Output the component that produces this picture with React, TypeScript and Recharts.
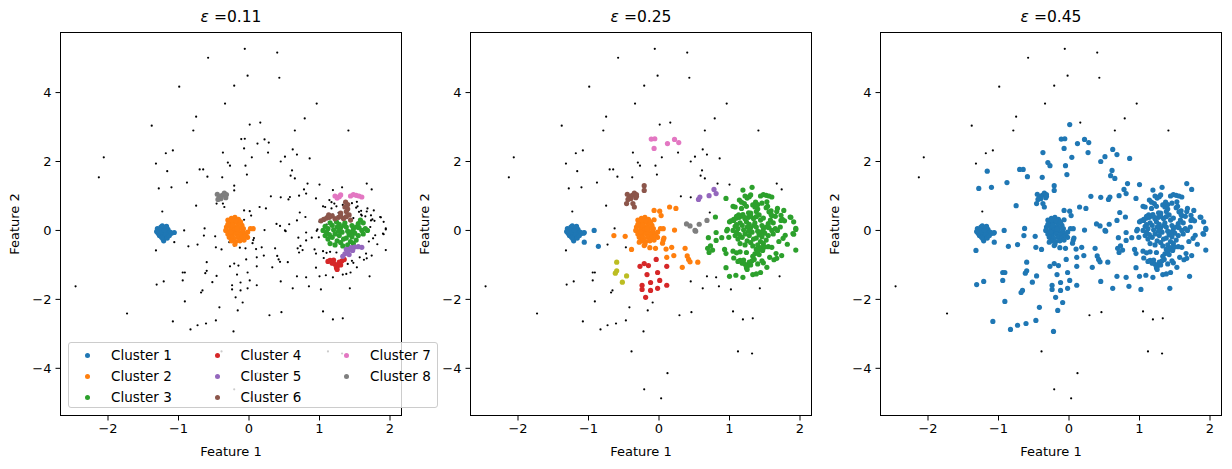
import React from "react";
import { ScatterChart, Scatter, XAxis, YAxis } from "recharts";

type Pt = [number, number];

// cluster 1 in the first panel (tight blob on the left)
const blobA: Pt[] = [
  [-1.30, 0.05], [-1.28, -0.02], [-1.25, 0.10], [-1.22, 0.05], [-1.20, -0.05], [-1.24, -0.10],
  [-1.27, -0.15], [-1.18, 0.08], [-1.16, -0.02], [-1.14, -0.10], [-1.19, -0.18], [-1.22, -0.25],
  [-1.25, -0.05], [-1.29, -0.08], [-1.23, 0.13], [-1.17, 0.12], [-1.15, 0.03], [-1.12, -0.05],
  [-1.10, -0.08], [-1.06, -0.06], [-1.21, -0.30], [-1.26, 0.00], [-1.20, 0.00], [-1.18, -0.12],
  [-1.31, -0.03], [-1.24, -0.20], [-1.16, -0.22], [-1.13, -0.15],
];

// cluster 2 (blob in the middle)
const blobB: Pt[] = [
  [-0.30, 0.30], [-0.25, 0.35], [-0.20, 0.38], [-0.15, 0.32], [-0.28, 0.20], [-0.22, 0.22],
  [-0.16, 0.20], [-0.10, 0.15], [-0.32, 0.10], [-0.26, 0.08], [-0.20, 0.10], [-0.14, 0.08],
  [-0.08, 0.05], [-0.33, 0.00], [-0.27, -0.02], [-0.21, 0.00], [-0.15, -0.02], [-0.09, -0.05],
  [-0.30, -0.10], [-0.24, -0.12], [-0.18, -0.10], [-0.12, -0.12], [-0.06, -0.10], [-0.28, -0.20],
  [-0.22, -0.22], [-0.16, -0.20], [-0.10, -0.22], [-0.25, -0.30], [-0.19, -0.32], [-0.13, -0.30],
  [-0.20, -0.40], [-0.05, -0.15], [-0.02, -0.05], [0.02, 0.05], [0.06, 0.05], [-0.24, 0.28],
  [-0.18, 0.28], [-0.30, 0.18], [-0.12, 0.25], [-0.26, -0.05], [-0.17, 0.04], [-0.23, 0.15],
  [-0.07, -0.28], [-0.02, -0.20],
];

// clusters 3..7 of the first panel (all inside the big right cloud)
const coreC: Pt[] = [
  [1.08, 0.12], [1.12, 0.05], [1.10, -0.05], [1.08, -0.15], [1.12, -0.25], [1.15, -0.38],
  [1.18, 0.15], [1.20, 0.02], [1.22, -0.10], [1.18, -0.20], [1.25, -0.30], [1.22, -0.42],
  [1.28, 0.18], [1.30, 0.08], [1.32, -0.05], [1.28, -0.15], [1.34, -0.25], [1.30, -0.35],
  [1.36, 0.22], [1.38, 0.10], [1.40, -0.02], [1.42, -0.12], [1.38, -0.22], [1.44, -0.32],
  [1.40, -0.42], [1.46, 0.14], [1.48, 0.04], [1.50, -0.08], [1.46, -0.18], [1.52, -0.28],
  [1.48, -0.38], [1.55, 0.20], [1.58, 0.30], [1.62, 0.22], [1.56, 0.08], [1.60, 0.00],
  [1.65, 0.05], [1.68, 0.00], [1.62, -0.10], [1.55, -0.15], [1.15, 0.22], [1.24, 0.25],
  [1.05, 0.00], [1.33, -0.45], [1.25, 0.10], [1.35, 0.15], [1.45, -0.05], [1.52, 0.10],
  [1.14, -0.12], [1.27, -0.02],
];
const coreD: Pt[] = [
  [1.12, -0.90], [1.15, -0.87], [1.20, -0.86], [1.18, -0.95], [1.22, -0.98], [1.26, -1.02],
  [1.24, -1.08], [1.28, -0.92], [1.32, -0.88], [1.35, -0.84], [1.30, -1.00], [1.25, -1.13],
];
const coreE: Pt[] = [
  [1.33, -0.75], [1.36, -0.68], [1.40, -0.62], [1.42, -0.55], [1.45, -0.50], [1.50, -0.48],
  [1.55, -0.47], [1.60, -0.49], [1.38, -0.55], [1.47, -0.58], [1.42, -0.70],
];
const coreF: Pt[] = [
  [1.02, 0.28], [1.06, 0.32], [1.10, 0.36], [1.14, 0.38], [1.18, 0.42], [1.13, 0.45],
  [1.22, 0.34], [1.27, 0.38], [1.30, 0.42], [1.34, 0.35], [1.38, 0.40], [1.42, 0.45],
  [1.38, 0.55], [1.40, 0.62], [1.36, 0.68], [1.40, 0.75], [1.37, 0.82], [1.30, 0.50],
  [1.44, 0.30],
];
const coreG: Pt[] = [
  [1.22, 1.00], [1.25, 0.94], [1.28, 0.98], [1.44, 1.00], [1.48, 1.04], [1.52, 1.02],
  [1.56, 1.00], [1.60, 0.97], [1.30, 1.03],
];
// cluster 8 of the first panel
const coreH: Pt[] = [
  [-0.45, 1.05], [-0.42, 0.98], [-0.38, 1.02], [-0.35, 1.08], [-0.32, 1.04], [-0.40, 0.92],
  [-0.44, 0.90], [-0.33, 0.95],
];

// noise at eps=0.11 that joins a cluster at eps=0.25
const ringGreen: Pt[] = [
  [1.32, 1.25], [1.19, 1.17], [0.95, 0.93], [1.05, 0.70], [1.08, 0.68], [1.14, 0.88],
  [1.17, 0.82], [1.21, 0.78], [1.53, 0.83], [1.54, 0.70], [1.46, 0.79], [1.68, 0.64],
  [1.77, 0.58], [1.17, 0.64], [1.24, 0.70], [1.33, 0.74], [1.59, 0.57], [1.67, 0.55],
  [1.73, 0.44], [1.60, 0.43], [1.65, 0.41], [1.52, 0.66], [1.56, 0.54], [1.27, 0.51],
  [1.19, 0.46], [1.10, 0.41], [1.06, 0.29], [1.00, 0.25], [1.10, 0.17], [1.22, 0.37],
  [1.48, 0.36], [1.59, 0.46], [1.73, 0.29], [1.86, 0.39], [1.91, 0.25], [1.78, 0.28],
  [1.94, 0.06], [1.75, 0.32], [1.87, 0.38], [1.94, 0.03], [1.90, -0.09], [1.79, -0.14],
  [1.91, -0.11], [1.72, 0.10], [1.76, -0.23], [1.70, -0.32], [1.82, -0.40], [1.94, -0.57],
  [0.80, 0.39], [0.97, 0.03], [0.81, -0.06], [0.96, -0.01], [0.89, -0.21], [0.99, -0.20],
  [0.70, -0.21], [0.81, -0.29], [0.73, -0.45], [0.69, -0.52], [0.71, -0.64], [0.76, -0.57],
  [0.93, -0.55], [0.95, -0.67], [0.95, -1.08], [1.00, -1.33], [1.09, -1.30], [1.19, -1.36],
  [1.33, -1.28], [1.38, -1.26], [1.44, -1.22], [1.53, -1.07], [1.48, -0.94], [1.40, -0.97],
  [1.05, -0.60], [1.10, -0.65], [1.15, -0.62], [1.06, -0.80], [1.24, -0.64], [1.66, -0.67],
  [1.74, -0.73], [1.63, -0.85], [1.57, -0.78], [1.67, -0.81], [1.46, -0.88],
];
const ringOrange: Pt[] = [
  [-0.64, -0.15], [-0.48, -0.17], [-0.39, -0.55], [-0.28, -0.34], [0.22, 0.01], [0.06, -0.28],
  [-0.05, -0.52], [0.10, -0.54], [0.18, -0.49], [0.11, -0.78], [0.21, -0.73], [0.37, -0.52],
  [0.40, -0.74], [0.42, -0.84], [0.44, -0.91], [0.33, -1.07], [0.55, -0.92], [0.15, 0.68],
  [0.24, 0.64], [0.01, 0.56], [-0.07, 0.58], [0.03, 0.43], [-0.07, 0.31], [-0.21, -0.44],
  [-0.13, -0.50], [0.07, -0.22], [0.05, -0.37],
];
const ringRed: Pt[] = [
  [-0.27, -1.04], [-0.21, -0.96], [-0.15, -1.02], [-0.04, -0.84], [0.11, -1.04], [-0.17, -1.28],
  [-0.02, -1.22], [0.01, -1.45], [-0.12, -1.51], [-0.24, -1.59], [-0.24, -1.71], [-0.12, -1.74],
  [-0.02, -1.68], [0.11, -1.59], [-0.19, -1.94],
];
const ringPink: Pt[] = [
  [-0.11, 2.65], [-0.06, 2.66], [-0.07, 2.38], [0.12, 2.52], [0.22, 2.64], [0.28, 2.55],
];
const ringBrown: Pt[] = [
  [-0.46, 0.78], [-0.37, 0.78], [-0.35, 0.68], [-0.21, 1.30], [-0.21, 1.16], [-0.32, 0.99],
];
const ringPurple: Pt[] = [[0.56, 0.90], [0.58, 0.97], [0.71, 1.01], [0.78, 1.19], [0.81, 1.07]];
const ringGray: Pt[] = [[0.39, 0.19], [0.44, 0.13], [0.57, 0.18], [0.68, 0.29], [0.51, 0.00], [0.52, -0.02]];
const ringOlive: Pt[] = [[-0.60, -0.92], [-0.60, -1.17], [-0.62, -1.24], [-0.46, -1.32], [-0.52, -1.50]];
const ringBlue: Pt[] = [[-1.07, -0.08], [-1.06, -0.34], [-0.92, 0.00], [-0.86, -0.46]];

// noise at eps=0.11 and 0.25, clustered at eps=0.45
const sparse: Pt[] = [
  [-1.16, 1.72], [-0.37, 2.26], [-0.30, 1.97], [-0.27, 1.88], [-0.70, 1.77], [-0.65, 1.77],
  [-0.59, 1.56], [-0.38, 1.54], [-1.28, 1.22], [-1.10, 1.25], [-0.88, 1.39], [-0.75, 0.72],
  [-0.63, 0.06], [-0.73, -0.41], [-0.47, -0.49], [-1.32, -0.58], [-0.94, -1.22], [-0.91, -1.22],
  [-0.94, -1.45], [-1.31, -1.57], [-1.21, -1.48], [-0.68, -1.80], [-0.66, -1.74], [-0.91, -2.06],
  [-0.42, -2.23], [-1.08, -2.64], [-0.83, -2.87], [-0.73, -2.75], [-0.61, -2.70], [-0.47, -2.61],
  [0.01, 3.07], [0.27, 2.26], [0.62, 2.35], [0.68, 2.20], [0.51, 2.14], [0.45, 2.00],
  [0.86, 2.09], [0.04, 2.12], [-0.05, 1.88], [-0.03, 1.62], [0.59, 1.59], [0.65, 1.51],
  [0.61, 1.74], [0.83, 1.36], [1.00, 1.33], [1.67, 1.36], [1.74, 1.19], [0.31, 0.99],
  [0.45, 0.96], [0.72, 0.52], [0.45, -1.48], [0.68, -1.33], [0.81, -1.36], [0.62, -1.68],
  [0.85, -1.62], [1.02, -1.71], [1.43, -1.68], [1.71, -1.33], [-0.09, -2.09], [-0.16, -2.32],
  [-0.22, -2.93],
];

// noise at every eps
const outliers: Pt[] = [
  [-0.06, 5.27], [0.40, 5.16], [-0.58, 5.01], [-0.02, 4.49], [0.43, 4.43], [-0.99, 4.17],
  [-0.21, 4.20], [-0.34, 3.68], [0.96, 3.68], [-0.75, 3.30], [0.79, 3.25], [-1.38, 3.04],
  [-0.79, 2.90], [0.16, 3.13], [0.65, 2.90], [1.41, 2.90], [-2.06, 2.12], [-2.13, 1.54],
  [-1.18, 2.24], [-1.08, 2.32], [-1.32, 1.94], [-1.23, 0.55], [-2.46, -1.62], [-1.73, -2.41],
  [0.29, -2.46], [0.46, -2.37], [1.05, -2.35], [1.19, -2.58], [1.33, -2.55], [-0.39, -3.51],
  [1.12, -3.51], [1.32, -3.57], [0.12, -4.14], [-0.21, -4.61], [0.03, -4.87],
];

const epsLabels = ["0.11", "0.25", "0.45"];
const xTicks = [-2, -1, 0, 1, 2];
const yTicks = [-4, -2, 0, 2, 4];
const legendLabels = [
  "Cluster 1", "Cluster 2", "Cluster 3", "Cluster 4",
  "Cluster 5", "Cluster 6", "Cluster 7", "Cluster 8",
];

const tab = {
  blue: "#1f77b4", orange: "#ff7f0e", green: "#2ca02c", red: "#d62728", purple: "#9467bd",
  brown: "#8c564b", pink: "#e377c2", gray: "#7f7f7f", olive: "#bcbd22",
};
const legendColors = [tab.blue, tab.orange, tab.green, tab.red, tab.purple, tab.brown, tab.pink, tab.gray];

interface Layer { pts: Pt[]; color: string; noise?: boolean; }

const ringAll = [
  ...ringGreen, ...ringOrange, ...ringRed, ...ringPink, ...ringBrown,
  ...ringPurple, ...ringGray, ...ringOlive, ...ringBlue,
];

const panels: Layer[][] = [
  [
    { pts: [...ringAll, ...sparse, ...outliers], color: "#000", noise: true },
    { pts: blobA, color: tab.blue },
    { pts: blobB, color: tab.orange },
    { pts: coreC, color: tab.green },
    { pts: coreD, color: tab.red },
    { pts: coreE, color: tab.purple },
    { pts: coreF, color: tab.brown },
    { pts: coreG, color: tab.pink },
    { pts: coreH, color: tab.gray },
  ],
  [
    { pts: [...sparse, ...outliers], color: "#000", noise: true },
    { pts: [...blobA, ...ringBlue], color: tab.blue },
    { pts: [...blobB, ...ringOrange], color: tab.orange },
    { pts: [...coreC, ...coreD, ...coreE, ...coreF, ...coreG, ...ringGreen], color: tab.green },
    { pts: ringRed, color: tab.red },
    { pts: ringPurple, color: tab.purple },
    { pts: [...coreH, ...ringBrown], color: tab.brown },
    { pts: ringPink, color: tab.pink },
    { pts: ringGray, color: tab.gray },
    { pts: ringOlive, color: tab.olive },
  ],
  [
    { pts: outliers, color: "#000", noise: true },
    {
      pts: [...blobA, ...blobB, ...coreC, ...coreD, ...coreE, ...coreF, ...coreG, ...coreH, ...ringAll, ...sparse],
      color: tab.blue,
    },
  ],
];

const xDomain: [number, number] = [-2.681, 2.17];
const yDomain: [number, number] = [-5.383, 5.757];

const font = "'DejaVu Sans', sans-serif";
const fmt = (v: number) => (v < 0 ? "\u2212" + Math.abs(v) : String(v));
const toXY = (pts: Pt[]) => pts.map(([x, y]) => ({ x, y }));

const CHART_W = 412;
const CHART_H = 469;
// axes take 1px each (height / width below), so the plot box is 60..402 x 32..416
const M = { top: 32, right: 10, bottom: 52, left: 59 };
const PLOT_L = 60;
const PLOT_T = 32;
const PLOT_W = 342;
const PLOT_H = 384;

function dot(r: number, fill: string) {
  return (p: any) => <circle cx={p.cx} cy={p.cy} r={r} fill={fill} />;
}

function Panel({ left, eps, layers }: { left: number; eps: string; layers: Layer[] }) {
  return (
    <div style={{ position: "absolute", left, top: 0, width: CHART_W, height: CHART_H }}>
      <ScatterChart width={CHART_W} height={CHART_H} margin={M}>
        <XAxis
          type="number" dataKey="x" domain={xDomain} ticks={xTicks} interval={0}
          allowDataOverflow height={1} axisLine={false}
          tickLine={{ stroke: "#000" }} tickSize={4.5} tickMargin={3}
          tick={{ fill: "#000", fontSize: 13 }} tickFormatter={fmt}
        />
        <YAxis
          type="number" dataKey="y" domain={yDomain} ticks={yTicks} interval={0}
          allowDataOverflow width={1} axisLine={false}
          tickLine={{ stroke: "#000" }} tickSize={4.5} tickMargin={4}
          tick={{ fill: "#000", fontSize: 13 }} tickFormatter={fmt}
        />
        {layers.map((l, i) => (
          <Scatter
            key={i}
            data={toXY(l.pts)}
            fill={l.color}
            isAnimationActive={false}
            shape={dot(l.noise ? 1.1 : 2.6, l.color)}
          />
        ))}
      </ScatterChart>
      <div
        style={{
          position: "absolute", left: PLOT_L, top: PLOT_T, width: PLOT_W, height: PLOT_H,
          border: "1px solid #000", boxSizing: "border-box", pointerEvents: "none",
        }}
      />
      <div
        style={{
          position: "absolute", left: PLOT_L, top: 7, width: PLOT_W, textAlign: "center",
          fontSize: 15.5, lineHeight: "20px",
        }}
      >
        <span style={{ fontStyle: "italic" }}>ε</span> =0.{eps.slice(2)}
      </div>
      <div
        style={{
          position: "absolute", left: PLOT_L, top: 444, width: PLOT_W, textAlign: "center",
          fontSize: 13, lineHeight: "16px",
        }}
      >
        Feature 1
      </div>
      <div
        style={{
          position: "absolute", left: 15 - 40, top: PLOT_T + PLOT_H / 2 - 8, width: 80,
          textAlign: "center", fontSize: 13, lineHeight: "16px", transform: "rotate(-90deg)",
        }}
      >
        Feature 2
      </div>
    </div>
  );
}

function Legend() {
  return (
    <div
      style={{
        position: "absolute", left: 68, top: 342, width: 370, height: 66,
        border: "1px solid #cccccc", borderRadius: 3, background: "rgba(255,255,255,0.8)",
        boxSizing: "border-box",
      }}
    >
      {legendLabels.map((label, i) => {
        const col = Math.floor(i / 3);
        const row = i % 3;
        return (
          <div
            key={label}
            style={{
              position: "absolute", left: 16 + col * 129.5, top: 4 + row * 21, height: 16,
              display: "flex", alignItems: "center", fontSize: 13.5, whiteSpace: "nowrap",
            }}
          >
            <span
              style={{
                display: "inline-block", width: 5, height: 5, borderRadius: "50%",
                background: legendColors[i], marginRight: 21,
              }}
            />
            {label}
          </div>
        );
      })}
    </div>
  );
}

export default function App() {
  return (
    <div
      style={{
        position: "absolute", left: 0, top: 0, width: 1232, height: 469,
        background: "#fff", fontFamily: font, color: "#000", overflow: "hidden",
      }}
    >
      {panels.map((layers, i) => (
        <Panel key={i} left={i * 410} eps={epsLabels[i]} layers={layers} />
      ))}
      <Legend />
    </div>
  );
}
